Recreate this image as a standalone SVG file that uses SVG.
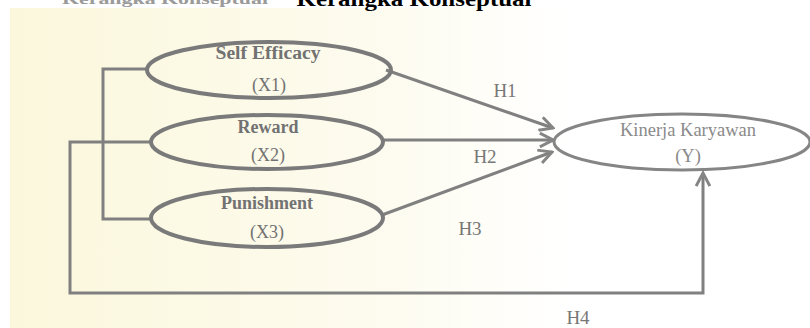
<svg xmlns="http://www.w3.org/2000/svg" width="810" height="328" viewBox="0 0 810 328">
  <defs>
    <linearGradient id="paper" x1="0" y1="0" x2="1" y2="0">
      <stop offset="0" stop-color="#fbf7dc"/>
      <stop offset="0.45" stop-color="#fdfbee"/>
      <stop offset="0.7" stop-color="#ffffff"/>
      <stop offset="1" stop-color="#ffffff"/>
    </linearGradient>
    <marker id="arr" viewBox="0 0 14 14" refX="12.5" refY="7" markerWidth="16" markerHeight="16" markerUnits="userSpaceOnUse" orient="auto">
      <path d="M1,1 L12.5,7 L1,13" fill="none" stroke="#858585" stroke-width="2.6" stroke-linejoin="miter"/>
    </marker>
    <style>
      .node { fill: none; stroke: #7a7a7a; stroke-width: 4; }
      .nodeY { fill: none; stroke: #858585; stroke-width: 3; }
      .lbl { font-family: "Liberation Serif", serif; font-size: 18px; fill: #727272; text-anchor: middle; }
      .bold { font-weight: bold; }
      .lblY { font-family: "Liberation Serif", serif; font-size: 18.5px; fill: #8a8a8a; text-anchor: middle; }
      .h { font-family: "Liberation Serif", serif; font-size: 19px; fill: #777777; text-anchor: middle; }
      .conn { fill: none; stroke: #808080; stroke-width: 3; }
    </style>
  </defs>

  <rect x="0" y="0" width="810" height="328" fill="#ffffff"/>
  <rect x="10" y="8" width="800" height="320" fill="url(#paper)"/>

  <text x="165" y="4" font-family="Liberation Serif, serif" font-size="15" font-weight="bold" fill="#9a9a9a" text-anchor="middle" textLength="206" lengthAdjust="spacingAndGlyphs">Kerangka Konseptual</text>
  <text x="414" y="6" font-family="Liberation Serif, serif" font-size="21" font-weight="bold" fill="#000000" text-anchor="middle" textLength="235" lengthAdjust="spacingAndGlyphs">Kerangka Konseptual</text>

  <g id="connectors">
    <polyline class="conn" points="148,69 103,69 103,219 152,219"/>
    <polyline class="conn" points="150,142 70,142 70,293 703,293 703,173" marker-end="url(#arr)"/>
    <line class="conn" x1="386" y1="70" x2="553" y2="128" marker-end="url(#arr)"/>
    <line class="conn" x1="382" y1="140" x2="553" y2="140" marker-end="url(#arr)"/>
    <line class="conn" x1="382" y1="215" x2="552" y2="152" marker-end="url(#arr)"/>
    <text class="h" x="505" y="97">H1</text>
    <text class="h" x="485" y="163">H2</text>
    <text class="h" x="470" y="235">H3</text>
    <text class="h" x="578" y="324">H4</text>
  </g>

  <g id="x1">
    <ellipse class="node" cx="269" cy="70" rx="122" ry="28"/>
    <text class="lbl bold" x="268" y="59" textLength="105" lengthAdjust="spacingAndGlyphs">Self Efficacy</text>
    <text class="lbl" x="269" y="91">(X1)</text>
  </g>
  <g id="x2">
    <ellipse class="node" cx="267" cy="142" rx="116" ry="27"/>
    <text class="lbl bold" x="268" y="133">Reward</text>
    <text class="lbl" x="268" y="161">(X2)</text>
  </g>
  <g id="x3">
    <ellipse class="node" cx="267" cy="218" rx="116" ry="29"/>
    <text class="lbl bold" x="267" y="209">Punishment</text>
    <text class="lbl" x="267" y="238">(X3)</text>
  </g>
  <g id="y">
    <ellipse class="nodeY" cx="682" cy="142" rx="128" ry="28"/>
    <text class="lblY" x="688" y="136">Kinerja Karyawan</text>
    <text class="lblY" x="688" y="162">(Y)</text>
  </g>
</svg>
